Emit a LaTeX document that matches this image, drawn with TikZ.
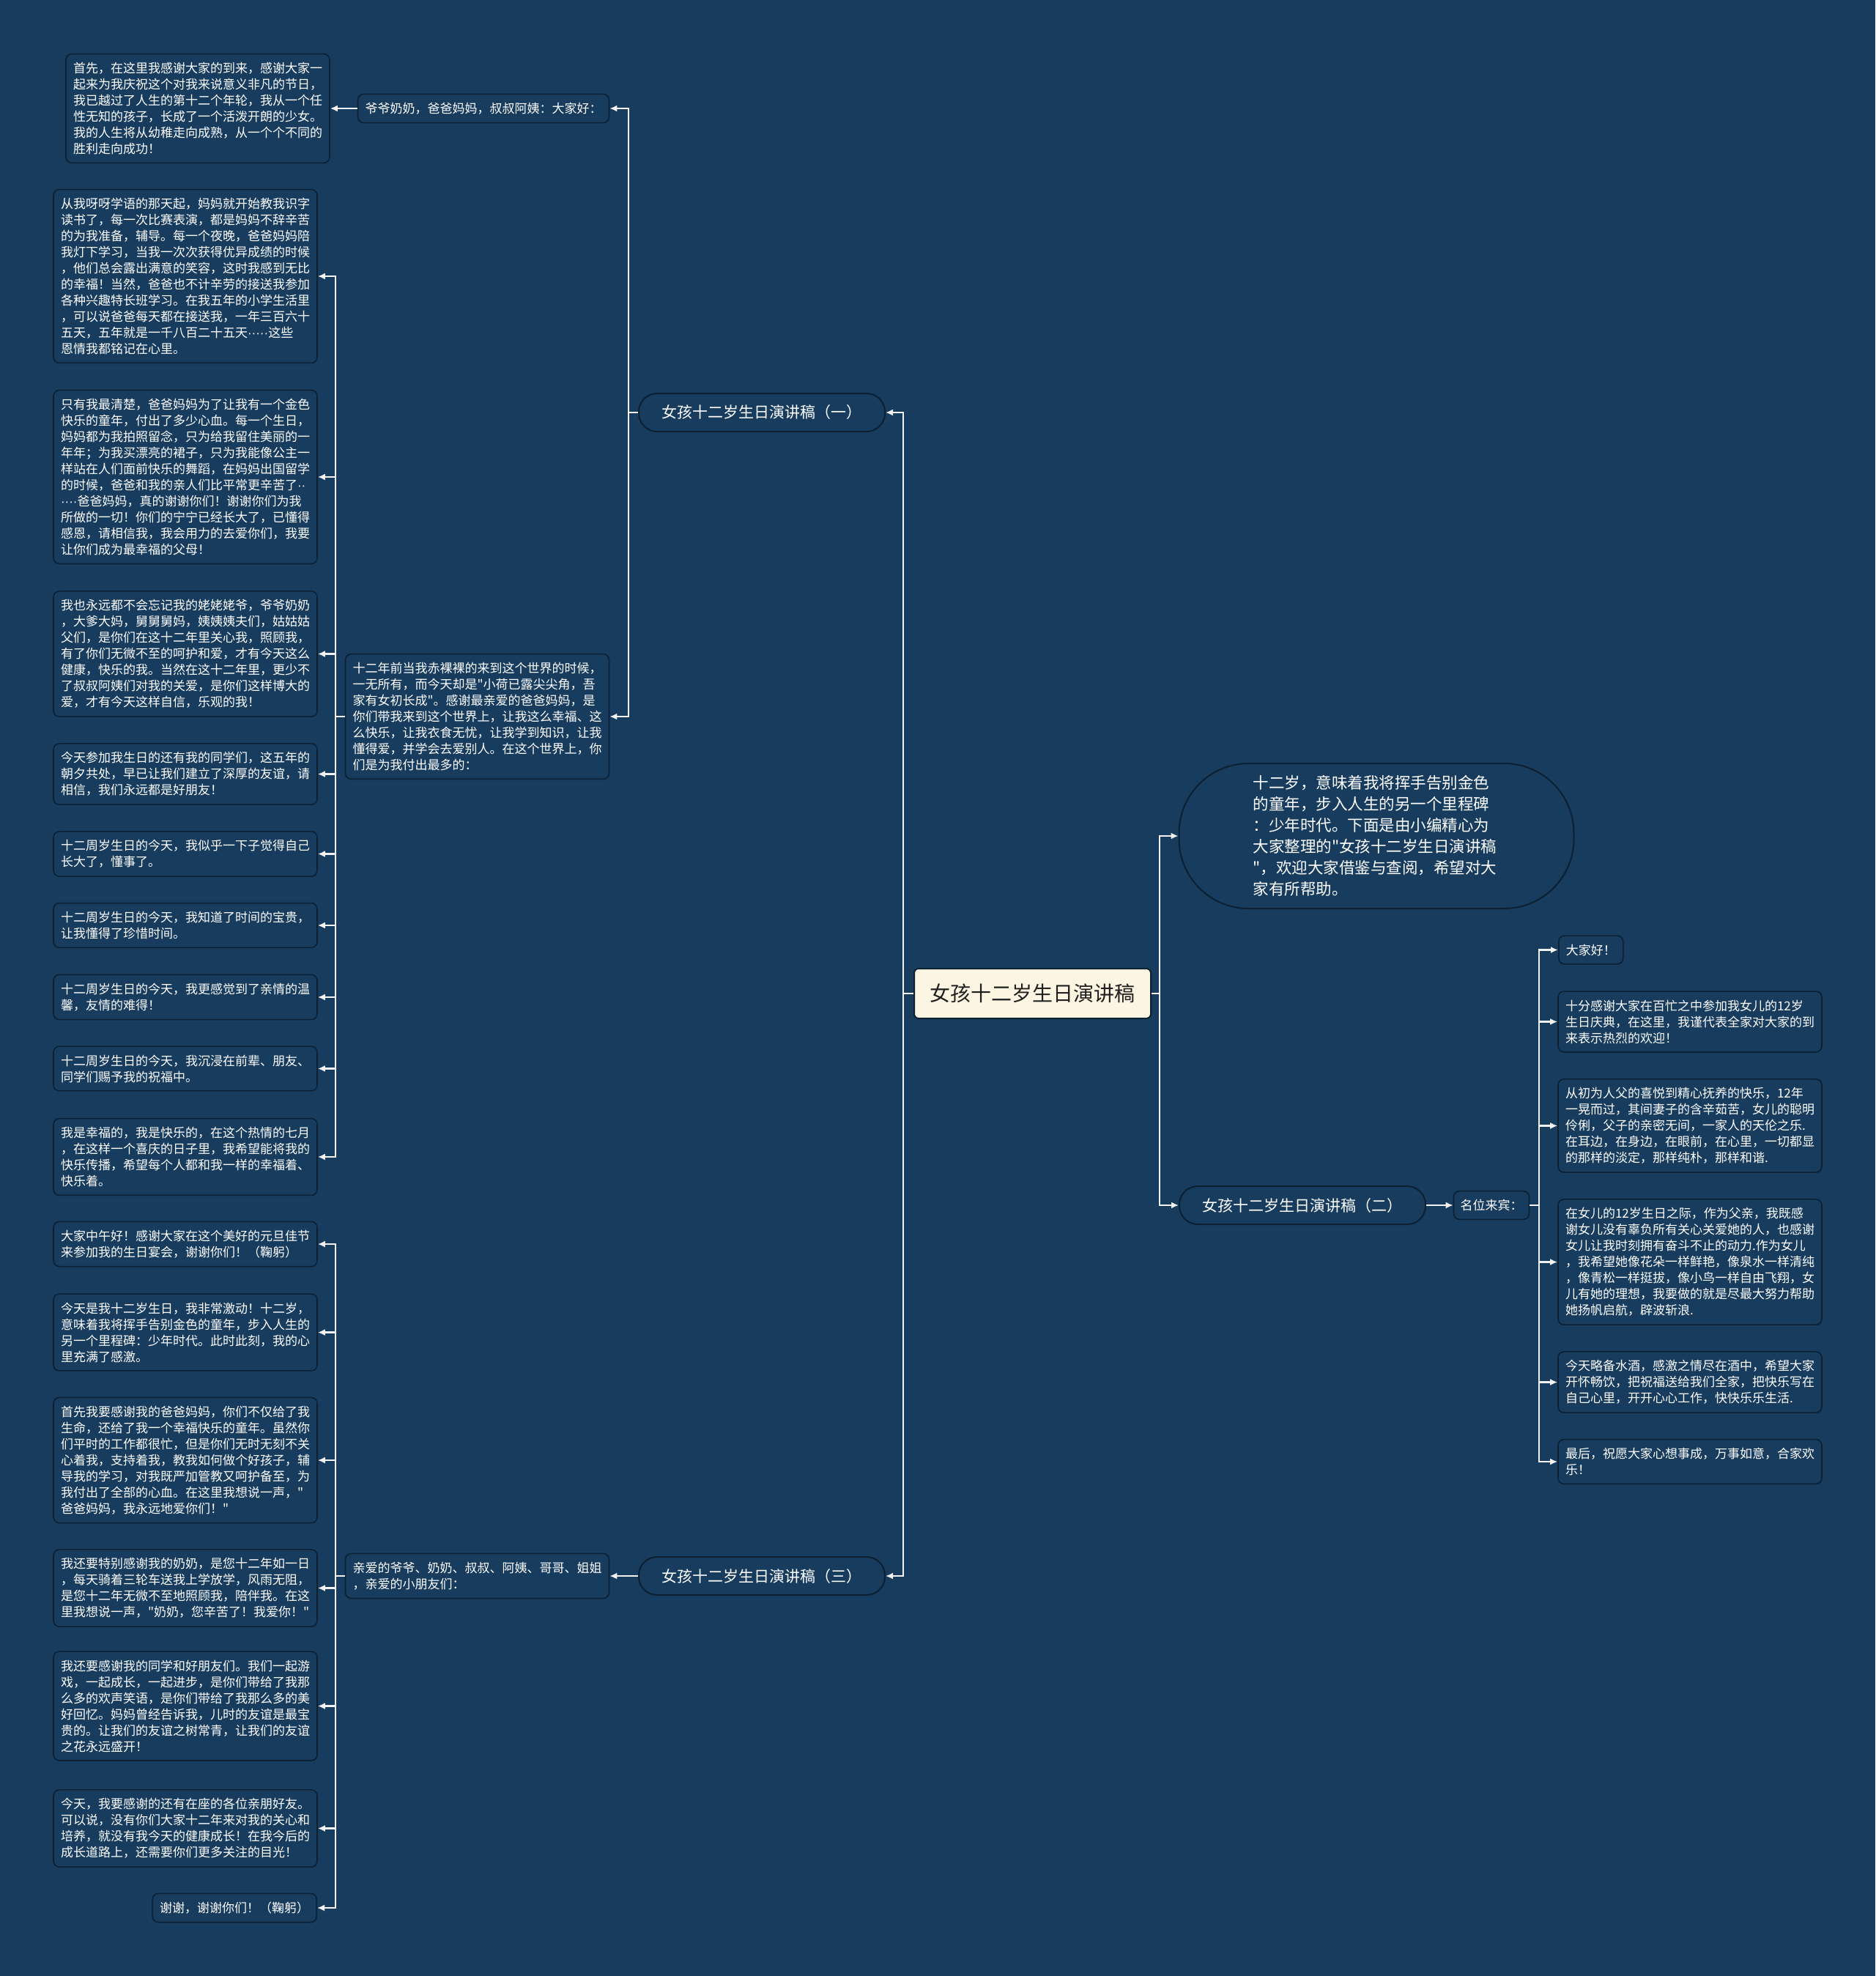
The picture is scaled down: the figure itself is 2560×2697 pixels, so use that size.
\documentclass[tikz,border=0pt]{standalone}
\usepackage{fontspec}
\newfontfamily\cjk{Noto Sans CJK SC}
\newfontfamily\latf{Liberation Sans}
\usetikzlibrary{arrows.meta}
\definecolor{bg}{HTML}{173C5E}
\definecolor{bord}{HTML}{0C2034}
\definecolor{lnc}{HTML}{F2F2F2}
\definecolor{cream}{HTML}{FBF5E1}
\newcommand{\dts}[1]{{\latf #1}}
\begin{document}
\begin{tikzpicture}[x=1pt,y=-1pt,
  leaf/.style={draw=bord, fill=bg, line width=1.6pt, rounded corners=8pt, text=white,
    font=\cjk\fontsize{17pt}{22pt}\selectfont, inner xsep=10pt, inner ysep=11.5pt, align=left},
  wleaf/.style={leaf, text width=340pt},
  branch/.style={draw=bord, fill=bg, line width=2pt, rounded corners=25pt, text=white,
    font=\cjk\fontsize{21pt}{26pt}\selectfont, minimum width=336pt, minimum height=52pt, inner sep=0pt},
  conn/.style={draw=lnc, line width=2.6pt},
  arr/.style={conn, -{Latex[length=10pt,width=9pt]}}
]
\fill[bg] (0,0) rectangle (2560,2697);
\useasboundingbox (0,0) rectangle (2560,2697);

% root
\node[draw=bord, fill=cream, line width=2pt, rounded corners=6pt, text=black!88,
  font=\cjk\fontsize{28pt}{34pt}\selectfont, minimum width=323pt, minimum height=68pt] (root) at (1409.5,1356) {女孩十二岁生日演讲稿};

% intro
\node[draw=bord, fill=bg, line width=2pt, rounded corners=95pt, text=white,
  font=\cjk\fontsize{21.5pt}{29pt}\selectfont, minimum width=539pt, minimum height=198pt,
  text width=337pt, align=left] (intro) at (1879,1141) {十二岁，意味着我将挥手告别金色\\的童年，步入人生的另一个里程碑\\：少年时代。下面是由小编精心为\\大家整理的"女孩十二岁生日演讲稿\\"，欢迎大家借鉴与查阅，希望对大\\家有所帮助。};

% branches
\node[branch] (b1) at (1040,563) {女孩十二岁生日演讲稿（一）};
\node[branch] (b2) at (1778,1645) {女孩十二岁生日演讲稿（二）};
\node[branch] (b3) at (1040,2151) {女孩十二岁生日演讲稿（三）};

% branch 1 children
\node[leaf] (c1) at (660,148) {爷爷奶奶，爸爸妈妈，叔叔阿姨：大家好：};
\node[wleaf] (a) at (270,148) {首先，在这里我感谢大家的到来，感谢大家一\\起来为我庆祝这个对我来说意义非凡的节日，\\我已越过了人生的第十二个年轮，我从一个任\\性无知的孩子，长成了一个活泼开朗的少女。\\我的人生将从幼稚走向成熟，从一个个不同的\\胜利走向成功！};
\node[wleaf] (c2) at (651.5,978) {十二年前当我赤裸裸的来到这个世界的时候，\\一无所有，而今天却是"小荷已露尖尖角，吾\\家有女初长成"。感谢最亲爱的爸爸妈妈，是\\你们带我来到这个世界上，让我这么幸福、这\\么快乐，让我衣食无忧，让我学到知识，让我\\懂得爱，并学会去爱别人。在这个世界上，你\\们是为我付出最多的：};

\node[wleaf] (l1) at (253,377) {从我呀呀学语的那天起，妈妈就开始教我识字\\读书了，每一次比赛表演，都是妈妈不辞辛苦\\的为我准备，辅导。每一个夜晚，爸爸妈妈陪\\我灯下学习，当我一次次获得优异成绩的时候\\，他们总会露出满意的笑容，这时我感到无比\\的幸福！当然，爸爸也不计辛劳的接送我参加\\各种兴趣特长班学习。在我五年的小学生活里\\，可以说爸爸每天都在接送我，一年三百六十\\五天，五年就是一千八百二十五天\dts{·····}这些\\恩情我都铭记在心里。};
\node[wleaf] (l2) at (253,651) {只有我最清楚，爸爸妈妈为了让我有一个金色\\快乐的童年，付出了多少心血。每一个生日，\\妈妈都为我拍照留念，只为给我留住美丽的一\\年年；为我买漂亮的裙子，只为我能像公主一\\样站在人们面前快乐的舞蹈，在妈妈出国留学\\的时候，爸爸和我的亲人们比平常更辛苦了\dts{··}\\\dts{····}爸爸妈妈，真的谢谢你们！谢谢你们为我\\所做的一切！你们的宁宁已经长大了，已懂得\\感恩，请相信我，我会用力的去爱你们，我要\\让你们成为最幸福的父母！};
\node[wleaf] (l3) at (253,892.5) {我也永远都不会忘记我的姥姥姥爷，爷爷奶奶\\，大爹大妈，舅舅舅妈，姨姨姨夫们，姑姑姑\\父们，是你们在这十二年里关心我，照顾我，\\有了你们无微不至的呵护和爱，才有今天这么\\健康，快乐的我。当然在这十二年里，更少不\\了叔叔阿姨们对我的关爱，是你们这样博大的\\爱，才有今天这样自信，乐观的我！};
\node[wleaf] (l4) at (253,1056.5) {今天参加我生日的还有我的同学们，这五年的\\朝夕共处，早已让我们建立了深厚的友谊，请\\相信，我们永远都是好朋友！};
\node[wleaf] (l5) at (253,1165.5) {十二周岁生日的今天，我似乎一下子觉得自己\\长大了，懂事了。};
\node[wleaf] (l6) at (253,1263) {十二周岁生日的今天，我知道了时间的宝贵，\\让我懂得了珍惜时间。};
\node[wleaf] (l7) at (253,1361) {十二周岁生日的今天，我更感觉到了亲情的温\\馨，友情的难得！};
\node[wleaf] (l8) at (253,1458.5) {十二周岁生日的今天，我沉浸在前辈、朋友、\\同学们赐予我的祝福中。};
\node[wleaf] (l9) at (253,1579) {我是幸福的，我是快乐的，在这个热情的七月\\，在这样一个喜庆的日子里，我希望能将我的\\快乐传播，希望每个人都和我一样的幸福着、\\快乐着。};

% branch 3 children
\node[wleaf] (c3) at (651.5,2151) {亲爱的爷爷、奶奶、叔叔、阿姨、哥哥、姐姐\\，亲爱的小朋友们：};
\node[wleaf] (m1) at (253,1698) {大家中午好！感谢大家在这个美好的元旦佳节\\来参加我的生日宴会，谢谢你们！（鞠躬）};
\node[wleaf] (m2) at (253,1818.5) {今天是我十二岁生日，我非常激动！十二岁，\\意味着我将挥手告别金色的童年，步入人生的\\另一个里程碑：少年时代。此时此刻，我的心\\里充满了感激。};
\node[wleaf] (m3) at (253,1993) {首先我要感谢我的爸爸妈妈，你们不仅给了我\\生命，还给了我一个幸福快乐的童年。虽然你\\们平时的工作都很忙，但是你们无时无刻不关\\心着我，支持着我，教我如何做个好孩子，辅\\导我的学习，对我既严加管教又呵护备至，为\\我付出了全部的心血。在这里我想说一声，"\\爸爸妈妈，我永远地爱你们！"};
\node[wleaf] (m4) at (253,2167.5) {我还要特别感谢我的奶奶，是您十二年如一日\\，每天骑着三轮车送我上学放学，风雨无阻，\\是您十二年无微不至地照顾我，陪伴我。在这\\里我想说一声，"奶奶，您辛苦了！我爱你！"};
\node[wleaf] (m5) at (253,2328.5) {我还要感谢我的同学和好朋友们。我们一起游\\戏，一起成长，一起进步，是你们带给了我那\\么多的欢声笑语，是你们带给了我那么多的美\\好回忆。妈妈曾经告诉我，儿时的友谊是最宝\\贵的。让我们的友谊之树常青，让我们的友谊\\之花永远盛开！};
\node[wleaf] (m6) at (253,2495.5) {今天，我要感谢的还有在座的各位亲朋好友。\\可以说，没有你们大家十二年来对我的关心和\\培养，就没有我今天的健康成长！在我今后的\\成长道路上，还需要你们更多关注的目光！};
\node[leaf, anchor=east] (m7) at (433,2604) {谢谢，谢谢你们！（鞠躬）};

% branch 2 children
\node[leaf, inner xsep=9pt] (mw) at (2036,1645) {名位来宾：};
\node[leaf, anchor=west] (r1) at (2127,1296.5) {大家好！};
\node[wleaf] (r2) at (2307,1394.5) {十分感谢大家在百忙之中参加我女儿的12岁\\生日庆典，在这里，我谨代表全家对大家的到\\来表示热烈的欢迎！};
\node[wleaf] (r3) at (2307,1536.5) {从初为人父的喜悦到精心抚养的快乐，12年\\一晃而过，其间妻子的含辛茹苦，女儿的聪明\\伶俐，父子的亲密无间，一家人的天伦之乐.\\在耳边，在身边，在眼前，在心里，一切都显\\的那样的淡定，那样纯朴，那样和谐.};
\node[wleaf] (r4) at (2307,1722.5) {在女儿的12岁生日之际，作为父亲，我既感\\谢女儿没有辜负所有关心关爱她的人，也感谢\\女儿让我时刻拥有奋斗不止的动力.作为女儿\\，我希望她像花朵一样鲜艳，像泉水一样清纯\\，像青松一样挺拔，像小鸟一样自由飞翔，女\\儿有她的理想，我要做的就是尽最大努力帮助\\她扬帆启航，辟波斩浪.};
\node[wleaf] (r5) at (2307,1886.5) {今天略备水酒，感激之情尽在酒中，希望大家\\开怀畅饮，把祝福送给我们全家，把快乐写在\\自己心里，开开心心工作，快快乐乐生活.};
\node[wleaf] (r6) at (2307,1995) {最后，祝愿大家心想事成，万事如意，合家欢\\乐！};

% trunk coordinates
\coordinate (tl) at (1233,1356);
\coordinate (tr) at (1583,1356);
\coordinate (tb1) at (858,563);
\coordinate (tc2) at (458,978);
\coordinate (tc3) at (458,2151);
\coordinate (tmw) at (2101,1645);

% connectors
\draw[conn] (root.west) -- (tl);
\draw[arr] (tl) |- (b1.east);
\draw[arr] (tl) |- (b3.east);
\draw[conn] (root.east) -- (tr);
\draw[arr] (tr) |- (intro.west);
\draw[arr] (tr) |- (b2.west);

\draw[conn] (b1.west) -- (tb1);
\draw[arr] (tb1) |- (c1.east);
\draw[arr] (tb1) |- (c2.east);
\draw[arr] (c1.west) -- (a.east);

\draw[conn] (c2.west) -- (tc2);
\foreach \n in {l1,l2,l3,l4,l5,l6,l7,l8,l9} \draw[arr] (tc2) |- (\n.east);

\draw[arr] (b3.west) -- (c3.east);
\draw[conn] (c3.west) -- (tc3);
\foreach \n in {m1,m2,m3,m4,m5,m6,m7} \draw[arr] (tc3) |- (\n.east);

\draw[arr] (b2.east) -- (mw.west);
\draw[conn] (mw.east) -- (tmw);
\foreach \n in {r1,r2,r3,r4,r5,r6} \draw[arr] (tmw) |- (\n.west);
\end{tikzpicture}
\end{document}
